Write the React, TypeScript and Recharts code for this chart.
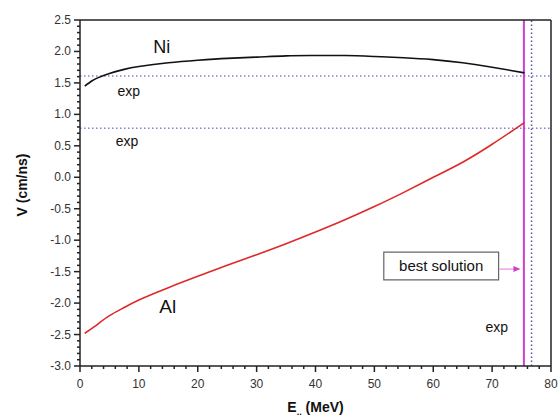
import React from "react"
import { LineChart, Line, XAxis, YAxis, ReferenceLine, ReferenceArea, ReferenceDot } from "recharts"

// courbes
const niCurve = [
  { e: 0.8, v: 1.45 }, { e: 2, v: 1.53 }, { e: 3, v: 1.58 }, { e: 5, v: 1.65 },
  { e: 7.5, v: 1.715 }, { e: 10, v: 1.76 }, { e: 15, v: 1.82 }, { e: 20, v: 1.86 },
  { e: 25, v: 1.89 }, { e: 30, v: 1.91 }, { e: 35, v: 1.93 }, { e: 40, v: 1.935 },
  { e: 45, v: 1.935 }, { e: 50, v: 1.92 }, { e: 55, v: 1.9 }, { e: 60, v: 1.87 },
  { e: 65, v: 1.82 }, { e: 70, v: 1.75 }, { e: 75.5, v: 1.66 },
]

const alCurve = [
  { e: 0.8, v: -2.48 }, { e: 2.5, v: -2.37 }, { e: 5, v: -2.2 }, { e: 7.5, v: -2.07 },
  { e: 10, v: -1.95 }, { e: 15, v: -1.755 }, { e: 20, v: -1.575 }, { e: 25, v: -1.4 },
  { e: 30, v: -1.23 }, { e: 35, v: -1.055 }, { e: 40, v: -0.87 }, { e: 45, v: -0.675 },
  { e: 50, v: -0.465 }, { e: 55, v: -0.24 }, { e: 60, v: 0.0 }, { e: 65, v: 0.24 },
  { e: 70, v: 0.525 }, { e: 75.5, v: 0.87 },
]

const expLevels = [1.61, 0.78]
const bestE = 75.4
const expE = 76.7

const xTicks = Array.from({ length: 41 }, (_, i) => i * 2)
const yTicks = Array.from({ length: 56 }, (_, i) => Math.round((-3 + i * 0.1) * 10) / 10)

const notes = [
  { text: "Ni", e: 13.9, v: 2.07, size: 18 },
  { text: "exp", e: 8.3, v: 1.37, size: 14 },
  { text: "exp", e: 8.0, v: 0.57, size: 14 },
  { text: "Al", e: 14.9, v: -2.05, size: 19 },
  { text: "exp", e: 70.8, v: -2.38, size: 14 },
]

const font = "'Liberation Sans', Arial, sans-serif"
const axisColor = "#222"
const magenta = "#d040d0"

const BottomTick = (props: any) => {
  const { x, y, payload } = props
  const major = payload.value % 10 === 0
  const len = major ? 6 : 3
  return (
    <g>
      <path d={`M${x},${y}L${x},${y + len}`} stroke={axisColor} strokeWidth={1.5} fill="none" />
      {major && (
        <text x={x} y={y + 22} textAnchor="middle" fontSize={12} fontFamily={font} fill="#333">
          {payload.value}
        </text>
      )}
    </g>
  )
}

const TopTick = (props: any) => {
  const { x, y, payload } = props
  const len = payload.value % 10 === 0 ? 6 : 3
  return <path d={`M${x},${y}L${x},${y - len}`} stroke={axisColor} strokeWidth={1.5} fill="none" />
}

const LeftTick = (props: any) => {
  const { x, y, payload } = props
  const v = payload.value
  const major = Math.abs(v * 2 - Math.round(v * 2)) < 1e-6
  const len = major ? 6 : 3
  return (
    <g>
      <path d={`M${x},${y}L${x - len},${y}`} stroke={axisColor} strokeWidth={1.5} fill="none" />
      {major && (
        <text x={x - 9} y={y + 4} textAnchor="end" fontSize={12} fontFamily={font} fill="#333">
          {v.toFixed(1)}
        </text>
      )}
    </g>
  )
}

export default function App() {
  return (
    <div style={{ position: "absolute", left: 0, top: 0, background: "#fff" }}>
      <LineChart width={560} height={417} margin={{ top: 0, right: 0, bottom: 0, left: 0 }}>
        <XAxis
          xAxisId="b"
          dataKey="e"
          type="number"
          domain={[0, 80]}
          ticks={xTicks}
          interval={0}
          tickSize={0}
          tickMargin={0}
          tickLine={false}
          tick={<BottomTick />}
          height={51}
          axisLine={{ stroke: axisColor, strokeWidth: 1.5 }}
          label={{
            content: (p: any) => {
              const vb = p.viewBox
              return (
                <text x={vb.x + vb.width / 2} y={vb.y + 46} textAnchor="middle" fontSize={14} fontWeight="bold" fontFamily={font} fill="#111">
                  E<tspan fontSize={9} dy={3}>..</tspan>
                  <tspan dy={-3}> (MeV)</tspan>
                </text>
              )
            },
          }}
        />
        <XAxis
          xAxisId="t"
          orientation="top"
          type="number"
          domain={[0, 80]}
          ticks={xTicks}
          interval={0}
          tickSize={0}
          tickMargin={0}
          tickLine={false}
          tick={<TopTick />}
          height={20}
          axisLine={{ stroke: axisColor, strokeWidth: 1.5 }}
        />
        <YAxis
          yAxisId="l"
          type="number"
          domain={[-3, 2.5]}
          ticks={yTicks}
          interval={0}
          tickSize={0}
          tickMargin={0}
          tickLine={false}
          tick={<LeftTick />}
          width={80}
          axisLine={{ stroke: axisColor, strokeWidth: 1.5 }}
          label={{
            content: () => (
              <text x={27} y={185} transform="rotate(-90 27 185)" textAnchor="middle" fontSize={14} fontWeight="bold" fontFamily={font} fill="#111">
                V (cm/ns)
              </text>
            ),
          }}
        />
        <YAxis
          yAxisId="r"
          orientation="right"
          type="number"
          domain={[-3, 2.5]}
          tick={false}
          tickLine={false}
          width={9}
          axisLine={{ stroke: axisColor, strokeWidth: 1.5 }}
        />

        {expLevels.map((lv) => (
          <ReferenceLine key={lv} xAxisId="b" yAxisId="l" y={lv} stroke="#8080d8" strokeWidth={1.5} strokeDasharray="1.5 2.5" />
        ))}
        <ReferenceLine xAxisId="b" yAxisId="l" x={expE} stroke="#5050a8" strokeWidth={1.5} strokeDasharray="1.5 2.5" />
        <ReferenceLine xAxisId="b" yAxisId="l" x={bestE} stroke={magenta} strokeWidth={2} />

        <Line xAxisId="b" yAxisId="l" data={niCurve} dataKey="v" type="natural" stroke="#111" strokeWidth={1.6} dot={false} isAnimationActive={false} />
        <Line xAxisId="b" yAxisId="l" data={alCurve} dataKey="v" type="natural" stroke="#e02828" strokeWidth={1.6} dot={false} isAnimationActive={false} />

        <ReferenceArea
          xAxisId="b"
          yAxisId="l"
          x1={51.6}
          x2={71.1}
          y1={-1.63}
          y2={-1.19}
          fill="#fff"
          fillOpacity={1}
          stroke="#666"
          strokeWidth={1.2}
          label={{ value: "best solution", position: "center", fontSize: 15, fill: "#111", fontFamily: font }}
        />
        <ReferenceLine
          xAxisId="b"
          yAxisId="l"
          segment={[{ x: 71.2, y: -1.46 }, { x: 74.2, y: -1.46 }]}
          stroke="#f0a0f0"
          strokeWidth={1.5}
        />
        <ReferenceDot
          xAxisId="b"
          yAxisId="l"
          x={74.3}
          y={-1.46}
          r={0}
          shape={(p: any) => (
            <polygon points={`${p.cx - 4},${p.cy - 3} ${p.cx + 3},${p.cy} ${p.cx - 4},${p.cy + 3}`} fill={magenta} />
          )}
        />

        {notes.map((n, i) => (
          <ReferenceDot
            key={i}
            xAxisId="b"
            yAxisId="l"
            x={n.e}
            y={n.v}
            r={0}
            shape={(p: any) => (
              <text x={p.cx} y={p.cy} textAnchor="middle" dominantBaseline="central" fontSize={n.size} fontFamily={font} fill="#111">
                {n.text}
              </text>
            )}
          />
        ))}
      </LineChart>
    </div>
  )
}
